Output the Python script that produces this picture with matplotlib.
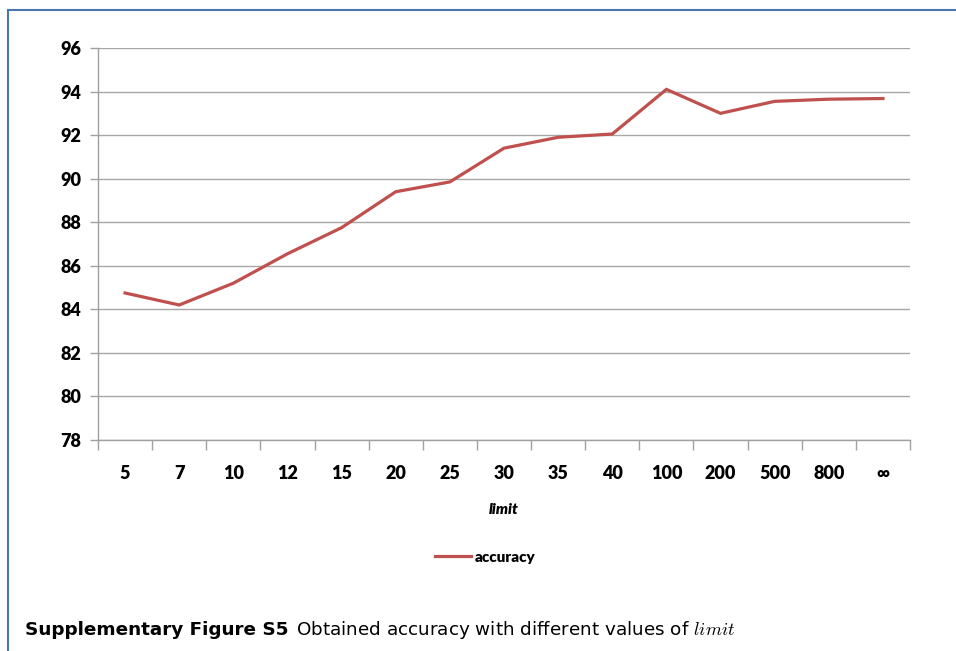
import matplotlib
matplotlib.use("Agg")
import matplotlib.pyplot as plt
from matplotlib.lines import Line2D

# accuracy for each limit setting
limits = ["5", "7", "10", "12", "15", "20", "25", "30", "35", "40",
          "100", "200", "500", "800", "\u221e"]
accuracy = [84.75, 84.2, 85.2, 86.55, 87.75, 89.4, 89.85, 91.4, 91.9, 92.05,
            94.1, 93.0, 93.55, 93.65, 93.68]
yticks = [78, 80, 82, 84, 86, 88, 90, 92, 94, 96]

plt.rcParams['font.family'] = ['Lato', 'DejaVu Sans']
plt.rcParams['mathtext.fontset'] = 'cm'

W, H = 956, 651
fig = plt.figure(figsize=(W / 100, H / 100), dpi=100)

# chart area border (blue, only top and left visible)
border = '#4a76b0'
fig.add_artist(Line2D([8 / W, 1], [1 - 10 / H, 1 - 10 / H], color=border, lw=1.5))
fig.add_artist(Line2D([8 / W, 8 / W], [0, 1 - 10 / H], color=border, lw=1.5))

ax = fig.add_axes([98 / W, 1 - 440 / H, (910 - 98) / W, (440 - 48) / H])
x = list(range(len(limits)))
ax.plot(x, accuracy, color='#c0504d', lw=2.3, label='accuracy', solid_joinstyle='miter')

ax.set_xlim(-0.5, len(limits) - 0.5)
ax.set_ylim(78, 96)
ax.set_yticks(yticks)
ax.set_yticklabels([str(v) for v in yticks], fontweight='heavy', fontsize=13)
ax.set_xticks(x)
ax.set_xticklabels(limits, fontweight='heavy', fontsize=13)
ax.tick_params(axis='x', length=0, pad=18)
ax.set_xticks([i - 0.5 for i in range(len(limits) + 1)], minor=True)
ax.tick_params(axis='x', which='minor', length=7, color='#a0a0a0', width=1)
ax.tick_params(axis='y', length=6, color='#a0a0a0', width=1, pad=6)

ax.grid(axis='y', color='#a6a6a6', lw=1)
ax.set_axisbelow(True)
for s in ['top', 'right']:
    ax.spines[s].set_visible(False)
for s in ['left', 'bottom']:
    ax.spines[s].set_color('#a0a0a0')
    ax.spines[s].set_linewidth(1)

ax.set_xlabel('limit', fontweight='heavy', fontstyle='italic', fontsize=11, labelpad=15)

fig.legend(handles=[Line2D([], [], color='#c0504d', lw=2.3)], labels=['accuracy'],
           loc='center', bbox_to_anchor=(485 / W, 1 - 557 / H), frameon=False,
           prop={'weight': 'heavy', 'size': 11}, handlelength=2.4, handletextpad=0.2)

# caption under the chart
fig.canvas.draw()
r = fig.canvas.get_renderer()
t1 = fig.text(25 / W, 1 - 630 / H, 'Supplementary Figure S5', fontweight='bold',
              fontsize=13.2, va='center', family='DejaVu Sans')
bb = t1.get_window_extent(r)
fig.text((bb.x1 + 7) / W, 1 - 630 / H,
         r'Obtained accuracy with different values of $\mathit{limit}$',
         fontsize=13.2, va='center', family='DejaVu Sans')

fig.savefig('out.png', dpi=100)
